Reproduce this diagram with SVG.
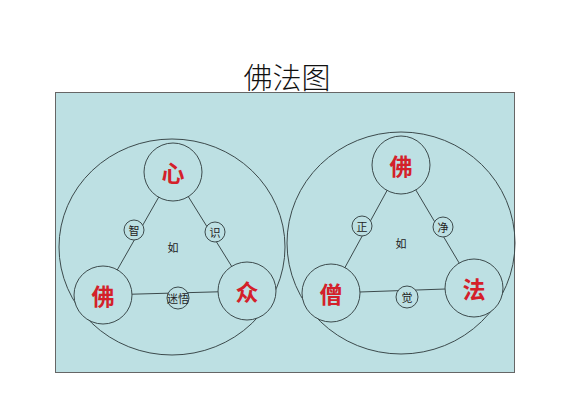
<svg xmlns="http://www.w3.org/2000/svg" width="565" height="418" viewBox="0 0 565 418">
<style>
.big{fill:none;stroke:#3c4a4c;stroke-width:1}
.n{fill:#bde0e3;stroke:#3c4a4c;stroke-width:1}
.ln{stroke:#3c4a4c;stroke-width:1;fill:none}
.r{font-family:"Noto Sans CJK SC","Noto Sans CJK JP",sans-serif;font-size:23px;font-weight:bold;fill:#d4202a;text-anchor:middle;dominant-baseline:central}
.s{font-family:"Noto Sans CJK SC","Noto Sans CJK JP",sans-serif;font-size:11px;fill:#222;text-anchor:middle;dominant-baseline:central}
</style>
<rect width="565" height="418" fill="#ffffff"/>
<rect id="panel" x="55.5" y="92.5" width="459" height="280" fill="#bde0e3" stroke="#666" stroke-width="1"/>
<text id="title" x="287" y="89" font-family="Noto Sans CJK SC, sans-serif" font-size="29" font-weight="300" fill="#111" text-anchor="middle">佛法图</text>
<g id="connectors">
<line class="ln" x1="173" y1="172" x2="103" y2="295"/>
<line class="ln" x1="173" y1="172" x2="247" y2="291"/>
<line class="ln" x1="103" y1="295" x2="247" y2="291"/>
<line class="ln" x1="401" y1="165" x2="331" y2="293"/>
<line class="ln" x1="401" y1="165" x2="474" y2="288"/>
<line class="ln" x1="331" y1="293" x2="474" y2="288"/>
</g>
<g id="outer-left"><ellipse class="big" cx="172" cy="247" rx="113" ry="108"/></g>
<g id="outer-right"><ellipse class="big" cx="401" cy="243" rx="114" ry="111"/></g>
<g id="xin"><circle class="n" cx="173" cy="172" r="29"/><text class="r" x="173" y="172">心</text></g>
<g id="fo-left"><circle class="n" cx="103" cy="295" r="29"/><text class="r" x="103" y="295">佛</text></g>
<g id="zhong"><circle class="n" cx="247" cy="291" r="29"/><text class="r" x="247" y="291">众</text></g>
<g id="zhi"><circle class="n" cx="134" cy="230" r="10"/><text class="s" x="134" y="230">智</text></g>
<g id="shi"><circle class="n" cx="215" cy="232" r="10"/><text class="s" x="215" y="232">识</text></g>
<g id="miwu"><circle class="n" cx="178" cy="298" r="11"/><text class="s" x="178" y="298">迷悟</text></g>
<g id="ru-left"><text class="s" x="173" y="247">如</text></g>
<g id="fo-right"><circle class="n" cx="401" cy="165" r="29"/><text class="r" x="401" y="165">佛</text></g>
<g id="seng"><circle class="n" cx="331" cy="293" r="29"/><text class="r" x="331" y="293">僧</text></g>
<g id="fa"><circle class="n" cx="474" cy="288" r="29"/><text class="r" x="474" y="288">法</text></g>
<g id="zheng"><circle class="n" cx="362" cy="226" r="10"/><text class="s" x="362" y="226">正</text></g>
<g id="jing"><circle class="n" cx="443" cy="227" r="10"/><text class="s" x="443" y="227">净</text></g>
<g id="jue"><circle class="n" cx="407" cy="297" r="11"/><text class="s" x="407" y="297">觉</text></g>
<g id="ru-right"><text class="s" x="401" y="243">如</text></g>
</svg>
